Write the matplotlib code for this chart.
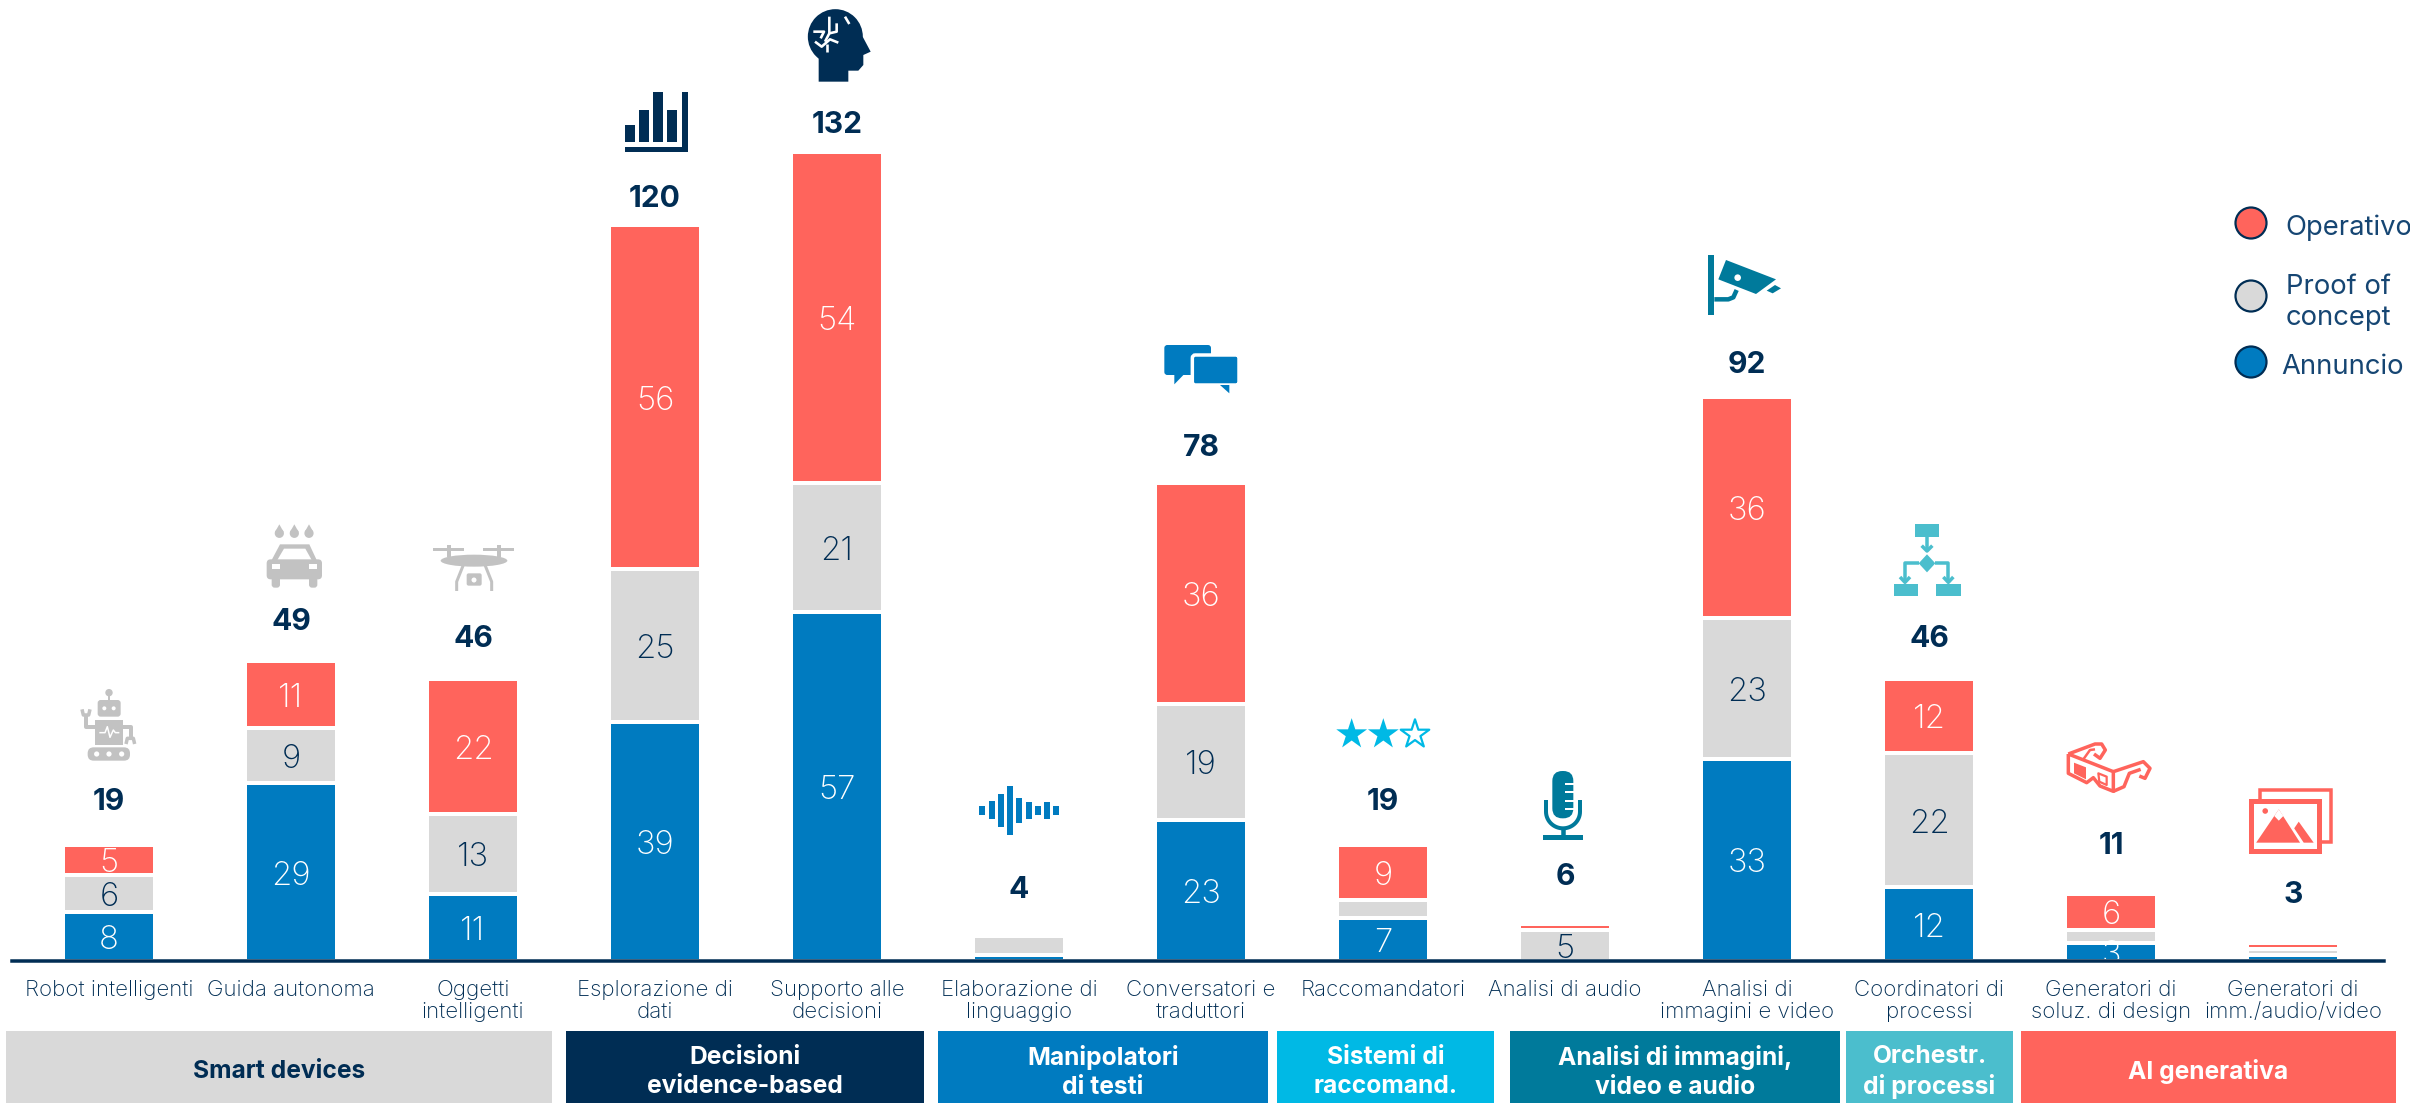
import matplotlib
matplotlib.use('Agg')
import matplotlib.pyplot as plt
import numpy as np
from matplotlib.patches import Circle, Ellipse, FancyBboxPatch, Polygon, Rectangle

plt.rcParams['font.family'] = ['Inter', 'DejaVu Sans']

categories = ['Robot intelligenti', 'Guida autonoma', 'Oggetti\nintelligenti', 'Esplorazione di\ndati',
              'Supporto alle\ndecisioni', 'Elaborazione di\nlinguaggio', 'Conversatori e\ntraduttori',
              'Raccomandatori', 'Analisi di audio', 'Analisi di\nimmagini e video', 'Coordinatori di\nprocessi',
              'Generatori di\nsoluz. di design', 'Generatori di\nimm./audio/video']
annuncio = [8, 29, 11, 39, 57, 1, 23, 7, 0, 33, 12, 3, 1]
proof = [6, 9, 13, 25, 21, 3, 19, 3, 5, 23, 22, 2, 1]
operativo = [5, 11, 22, 56, 54, 0, 36, 9, 1, 36, 12, 6, 1]
totals = [19, 49, 46, 120, 132, 4, 78, 19, 6, 92, 46, 11, 3]
# distanza in px tra cima della barra e totale
total_gap = [43, 39, 40, 26, 27, 46, 35, 43, 47, 32, 40, 48, 48]

groups = ['Smart devices', 'Decisioni\nevidence-based', 'Manipolatori\ndi testi', 'Sistemi di\nraccomand.',
          'Analisi di immagini,\nvideo e audio', 'Orchestr.\ndi processi', 'AI generativa']
group_x = [(6, 552), (566, 924), (938, 1268), (1277, 1494), (1510, 1840), (1846, 2013), (2021, 2396)]

RED = '#FF645C'
GREY = '#D9D9D9'
BLUE = '#007BC0'
NAVY = '#002D54'
CYAN = '#00B9E5'
TEAL = '#007A9B'
LTEAL = '#4BBECD'
ICON_GREY = '#C2C2C2'
group_colors = [GREY, NAVY, BLUE, CYAN, TEAL, LTEAL, RED]
group_text = [NAVY, 'white', 'white', 'white', 'white', 'white', 'white']

W, H = 2410, 1103
PX = 0.72  # da pixel a punti con dpi=100

fig = plt.figure(figsize=(W / 100, H / 100), dpi=100)
ax = fig.add_axes([12 / W, (H - 961) / H, (2384 - 12) / W, 961 / H])
ax.set_xlim(-0.533, 12.5)
ax.set_ylim(0, 961 / 6.13)
ax.patch.set_alpha(0)

x = np.arange(len(categories))
bottom = np.zeros(len(categories))
for values, color, tcolor in [(annuncio, BLUE, 'white'), (proof, GREY, NAVY), (operativo, RED, 'white')]:
    ax.bar(x, values, bottom=bottom, width=0.503, color=color, edgecolor='white', linewidth=4 * PX, zorder=2)
    for i, v in enumerate(values):
        # i segmenti piccoli non hanno etichetta, tranne il 3 dei generatori di design
        if v >= 5 or (i == 11 and color == BLUE):
            ax.annotate(str(v), xy=(i, bottom[i] + v / 2), xytext=(0, -4 * PX), textcoords='offset points',
                        ha='center', va='center', color=tcolor, fontsize=33 * PX, fontweight='light', zorder=3)
    bottom += values

for i, t in enumerate(totals):
    ax.annotate(str(t), xy=(i, t), xytext=(0, total_gap[i] * PX), textcoords='offset points',
                ha='center', va='center', color=NAVY, fontsize=30 * PX, fontweight='bold')

for side in ['top', 'left', 'right']:
    ax.spines[side].set_visible(False)
ax.spines['bottom'].set_color(NAVY)
ax.spines['bottom'].set_linewidth(3.5 * PX)
ax.spines['bottom'].set_zorder(4)
ax.set_yticks([])
ax.set_xticks(x)
ax.set_xticklabels(categories, fontsize=22.3 * PX, color=NAVY, fontweight='light', linespacing=1.13)
ax.tick_params(axis='x', length=0, pad=18.5 * PX)

# livello in pixel per riquadri, legenda e icone
ov = fig.add_axes([0, 0, 1, 1])
ov.set_xlim(0, W)
ov.set_ylim(H, 0)
ov.axis('off')
ov.patch.set_alpha(0)

for name, (x0, x1), col, tc in zip(groups, group_x, group_colors, group_text):
    ov.add_patch(Rectangle((x0, 1031), x1 - x0, H - 1031, color=col, lw=0))
    ov.text((x0 + x1) / 2, 1072, name, ha='center', va='center', color=tc, fontsize=24.6 * PX,
            fontweight='bold', linespacing=1.3)

LEG = '#164673'
for cy, col in [(223, RED), (296, GREY), (362, BLUE)]:
    ov.add_patch(Circle((2251, cy), 15.5, fc=col, ec=NAVY, lw=1.6))
ov.text(2285, 228, 'Operativo', va='center', color=LEG, fontsize=27.4 * PX)
ov.text(2286, 287, 'Proof of', va='center', color=LEG, fontsize=27.4 * PX)
ov.text(2286, 318, 'concept', va='center', color=LEG, fontsize=27.4 * PX)
ov.text(2281, 367, 'Annuncio', va='center', color=LEG, fontsize=27.4 * PX)


def rect(x0, x1, y0, y1, c):
    ov.add_patch(Rectangle((x0, y0), x1 - x0, y1 - y0, fc=c, ec='none'))


def rrect(x0, x1, y0, y1, c, r=3, ec='none', lw=0):
    ov.add_patch(FancyBboxPatch((x0 + r, y0 + r), x1 - x0 - 2 * r, y1 - y0 - 2 * r,
                                boxstyle=f'round,pad={r}', fc=c, ec=ec, lw=lw))


def poly(pts, c, ec='none', lw=0):
    ov.add_patch(Polygon(pts, closed=True, fc=c, ec=ec, lw=lw, joinstyle='round'))


def line(pts, c, lw):
    pts = np.array(pts, dtype=float)
    ov.plot(pts[:, 0], pts[:, 1], color=c, lw=lw * PX, solid_capstyle='butt', solid_joinstyle='round')


def circ(cx, cy, r, c, ec='none', lw=0):
    ov.add_patch(Circle((cx, cy), r, fc=c, ec=ec, lw=lw))


# robot
ro = lambda px, py: (50 + px / 3, 510 + py / 3)
g = ICON_GREY
circ(*ro(177, 548), 3.7, g)
line([ro(177, 548), ro(177, 572)], g, 2)
rrect(*ro(143, 570)[:1], ro(212, 0)[0], ro(0, 570)[1], ro(0, 620)[1], g)
circ(*ro(163, 595), 2, 'white')
circ(*ro(191, 595), 2, 'white')
rect(ro(135, 0)[0], ro(218, 0)[0], ro(0, 630)[1], ro(0, 705)[1], g)
line([ro(148, 668), ro(165, 668), ro(172, 650), ro(180, 682), ro(190, 660), ro(196, 668), ro(208, 668)], 'white', 1.5)
line([ro(135, 652), ro(108, 652), ro(108, 612)], g, 4)
line([ro(96, 598), ro(100, 615), ro(116, 615), ro(120, 598)], g, 3.5)
line([ro(218, 650), ro(242, 650), ro(242, 690)], g, 4)
line([ro(228, 702), ro(232, 685), ro(250, 685), ro(254, 702)], g, 3.5)
rrect(ro(113, 0)[0], ro(240, 0)[0], ro(0, 712)[1], ro(0, 752)[1], g, r=6)
for px in (140, 177, 215):
    circ(*ro(px, 732), 2.6, 'white')

# auto
for px in (688, 733, 777):
    circ(*ro(px, 70), 4.6, g)
    poly([ro(px - 13, 66), ro(px, 43), ro(px + 13, 66)], g)
poly([ro(665, 150), ro(690, 103), ro(778, 103), ro(800, 150)], g)
poly([ro(682, 150), ro(702, 116), ro(766, 116), ro(785, 150)], 'white')
rrect(ro(650, 0)[0], ro(816, 0)[0], ro(0, 148)[1], ro(0, 208)[1], g, r=4)
rrect(ro(665, 0)[0], ro(690, 0)[0], ro(0, 200)[1], ro(0, 233)[1], g, r=3)
rrect(ro(777, 0)[0], ro(802, 0)[0], ro(0, 200)[1], ro(0, 233)[1], g, r=3)
rect(ro(665, 0)[0], ro(690, 0)[0], ro(0, 162)[1], ro(0, 176)[1], 'white')
rect(ro(777, 0)[0], ro(802, 0)[0], ro(0, 162)[1], ro(0, 176)[1], 'white')

# drone
rect(ro(1150, 0)[0], ro(1243, 0)[0], ro(0, 113)[1], ro(0, 122)[1], g)
rect(ro(1300, 0)[0], ro(1393, 0)[0], ro(0, 113)[1], ro(0, 122)[1], g)
line([ro(1197, 105), ro(1197, 142)], g, 4)
line([ro(1347, 105), ro(1347, 142)], g, 4)
ov.add_patch(Ellipse(ro(1272, 152), 200 / 3, 12, fc=g, ec='none'))
line([ro(1240, 165), ro(1220, 215), ro(1220, 243)], g, 3)
line([ro(1305, 165), ro(1325, 215), ro(1325, 243)], g, 3)
rrect(ro(1250, 0)[0], ro(1295, 0)[0], ro(0, 190)[1], ro(0, 227)[1], g, r=2)
circ(*ro(1272, 210), 2.5, 'white')

# barre e testa
z5 = lambda px, py: (580 + px / 3, py / 3)
for a, b, t in [(135, 165, 376), (177, 207, 330), (218, 249, 276), (260, 291, 330)]:
    rect(z5(a, 0)[0], z5(b, 0)[0], z5(0, t)[1], z5(0, 425)[1], NAVY)
rect(z5(135, 0)[0], z5(324, 0)[0], z5(0, 440)[1], z5(0, 456)[1], NAVY)
rect(z5(307, 0)[0], z5(324, 0)[0], z5(0, 276)[1], z5(0, 456)[1], NAVY)

circ(*z5(766, 110), 27.5, NAVY)
poly([z5(716, 170), z5(716, 245), z5(805, 245), z5(805, 212), z5(835, 212), z5(850, 195), z5(850, 165),
      z5(872, 155), z5(848, 110)], NAVY)
for seg in ([(748, 50), (748, 100), (735, 125)], [(770, 70), (770, 95), (748, 100)], [(700, 95), (732, 95), (722, 115)],
            [(705, 125), (725, 140), (750, 118), (775, 128)], [(742, 155), (742, 132)], [(795, 50), (808, 72)]):
    line([z5(*p) for p in seg], 'white', 2.6)

# onda sonora
z2 = lambda px, py: (900 + px / 1.96, 780 + py / 3)
wave_bars = [(155, 78, 105), (174, 62, 117), (192, 43, 142), (210, 18, 166), (228, 55, 128),
             (247, 66, 116), (264, 78, 105), (282, 66, 116), (300, 78, 105)]
for px, t, b in wave_bars:
    rect(z2(px, 0)[0], z2(px + 12, 0)[0], z2(0, t)[1], z2(0, b)[1], BLUE)

# fumetti
z7 = lambda px, py: (1140 + px / 3, 330 + py / 3)
rrect(z7(73, 0)[0], z7(213, 0)[0], z7(0, 45)[1], z7(0, 135)[1], BLUE, r=3)
poly([z7(103, 130), z7(103, 163), z7(135, 130)], BLUE)
rrect(z7(157, 0)[0], z7(297, 0)[0], z7(0, 75)[1], z7(0, 165)[1], BLUE, r=3, ec='white', lw=2.5)
poly([z7(240, 165), z7(268, 190), z7(268, 165)], BLUE)

# stelle
z11 = lambda px, py: (1320 + px / 3, 705 + py / 3)
for k, px in enumerate((95, 190, 285)):
    cx, cy = z11(px, 88)
    R = 16.2 if k < 2 else 15
    ang = np.pi / 2 + np.arange(10) * np.pi / 5
    rad = np.where(np.arange(10) % 2 == 0, R, R * 0.382)
    pts = np.column_stack([cx + rad * np.cos(ang), cy - rad * np.sin(ang)])
    if k < 2:
        poly(pts, CYAN)
    else:
        poly(pts, 'white', ec=CYAN, lw=1.6)

# microfono
rrect(z11(697, 0)[0], z11(760, 0)[0], z11(0, 198)[1], z11(0, 340)[1], TEAL, r=10)
for py in (237, 262, 287, 312):
    rect(z11(735, 0)[0], z11(762, 0)[0], z11(0, py - 3)[1], z11(0, py + 3)[1], 'white')
th = np.linspace(np.pi, 2 * np.pi, 30)
cup = [z11(678, 285)] + [z11(729 + 51 * np.cos(t), 320 - 50 * np.sin(t)) for t in th] + [z11(780, 285)]
line(cup, TEAL, 4)
line([z11(729, 370), z11(729, 395)], TEAL, 4.5)
rect(z11(670, 0)[0], z11(788, 0)[0], z11(0, 390)[1], z11(0, 404)[1], TEAL)

# telecamera
z8 = lambda px, py: (1690 + px / 3, 240 + py / 3)
rect(z8(55, 0)[0], z8(73, 0)[0], z8(0, 45)[1], z8(0, 225)[1], TEAL)
line([z8(73, 178), z8(115, 178), z8(130, 172), z8(140, 150)], TEAL, 4.5)
poly([z8(108, 60), z8(258, 118), z8(198, 162), z8(85, 118)], TEAL)
circ(*z8(143, 113), 3.3, 'white')
poly([z8(230, 152), z8(255, 135), z8(273, 145), z8(248, 160)], TEAL)

# flusso
z9 = lambda px, py: (1880 + px / 3, 515 + py / 3)
rect(z9(105, 0)[0], z9(178, 0)[0], z9(0, 28)[1], z9(0, 65)[1], LTEAL)
line([z9(141, 65), z9(141, 105)], LTEAL, 3.5)
line([z9(125, 92), z9(141, 108), z9(157, 92)], LTEAL, 3.5)
poly([z9(141, 118), z9(166, 145), z9(141, 172), z9(116, 145)], LTEAL)
line([z9(118, 145), z9(75, 145), z9(75, 200)], LTEAL, 3.5)
line([z9(165, 145), z9(205, 145), z9(205, 200)], LTEAL, 3.5)
line([z9(60, 186), z9(75, 202), z9(90, 186)], LTEAL, 3.5)
line([z9(190, 186), z9(205, 202), z9(220, 186)], LTEAL, 3.5)
rect(z9(41, 0)[0], z9(115, 0)[0], z9(0, 208)[1], z9(0, 244)[1], LTEAL)
rect(z9(168, 0)[0], z9(242, 0)[0], z9(0, 208)[1], z9(0, 244)[1], LTEAL)

# occhiali
z10 = lambda px, py: (2050 + px / 3, 730 + py / 3)
line([z10(*p) for p in [(55, 72), (55, 130), (110, 158), (130, 143), (150, 168), (190, 184), (190, 125), (55, 72)]], RED, 3.5)
line([z10(*p) for p in [(55, 72), (135, 42), (155, 42), (166, 60), (150, 85), (132, 72)]], RED, 3.5)
line([z10(*p) for p in [(100, 88), (120, 60), (135, 58)]], RED, 2.5)
line([z10(*p) for p in [(190, 125), (280, 95), (300, 115), (285, 145), (268, 138)]], RED, 3.5)
line([z10(*p) for p in [(190, 184), (222, 170), (238, 130), (272, 118)]], RED, 3.5)
poly([z10(72, 98), z10(108, 112), z10(108, 148), z10(72, 130)], RED)
poly([z10(145, 130), z10(170, 140), z10(170, 165), z10(148, 155)], 'white', ec=RED, lw=1.6)

# immagini
z3 = lambda px, py: (1700 + px / 2.208, 780 + py / 3)
ov.add_patch(Rectangle(z3(1236, 30), z3(1393, 0)[0] - z3(1236, 0)[0], 52, fc='white', ec=RED, lw=3.5 * PX, joinstyle='miter'))
ov.add_patch(Rectangle(z3(1216, 62), z3(1367, 0)[0] - z3(1216, 0)[0], 50, fc='white', ec=RED, lw=5 * PX, joinstyle='miter'))
poly([z3(1228, 188), z3(1278, 88), z3(1325, 188)], RED)
poly([z3(1268, 108), z3(1278, 88), z3(1288, 108), z3(1278, 122)], 'white')
poly([z3(1312, 145), z3(1322, 125), z3(1355, 188), z3(1333, 188)], RED)
circ(*z3(1248, 93), 2.8, RED)

fig.savefig('out.png', dpi=100)
